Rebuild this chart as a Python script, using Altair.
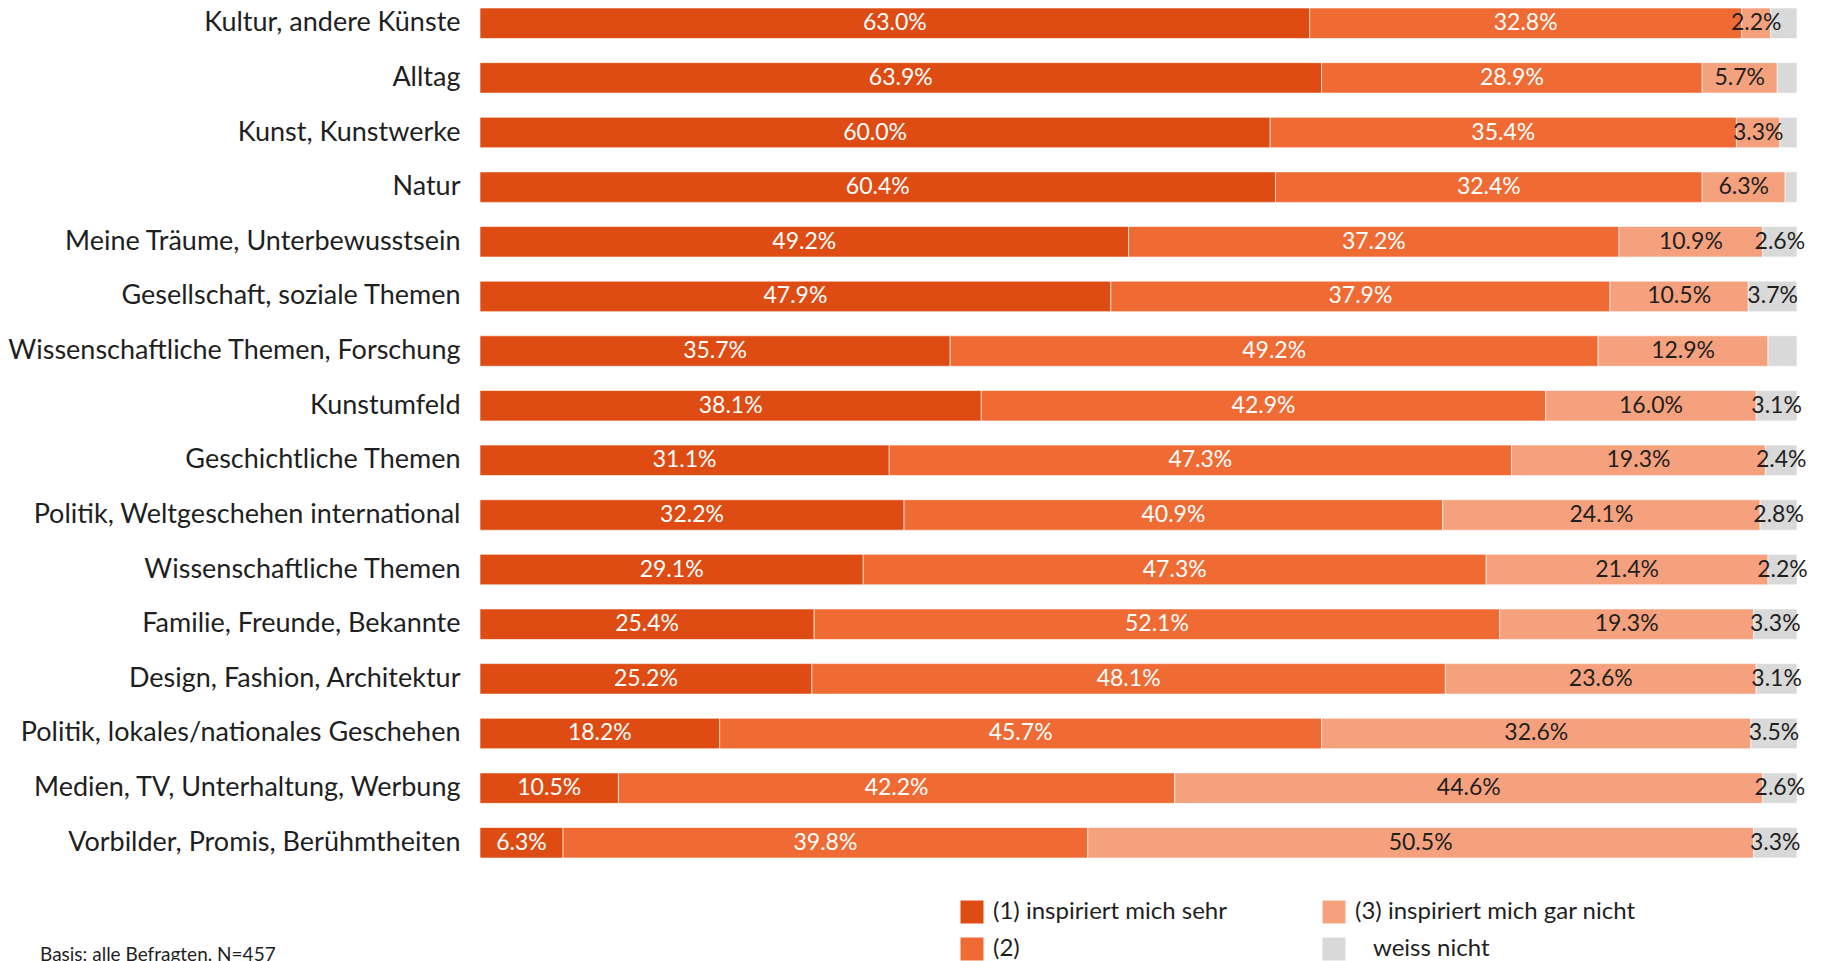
import altair as alt
import pandas as pd

categories = [
    "Kultur, andere Künste", "Alltag", "Kunst, Kunstwerke", "Natur",
    "Meine Träume, Unterbewusstsein", "Gesellschaft, soziale Themen",
    "Wissenschaftliche Themen, Forschung", "Kunstumfeld", "Geschichtliche Themen",
    "Politik, Weltgeschehen international", "Wissenschaftliche Themen",
    "Familie, Freunde, Bekannte", "Design, Fashion, Architektur",
    "Politik, lokales/nationales Geschehen", "Medien, TV, Unterhaltung, Werbung",
    "Vorbilder, Promis, Berühmtheiten",
]
series = ["(1) inspiriert mich sehr", "(2)", "(3) inspiriert mich gar nicht", "\u2800weiss nicht"]
colors = ["#DE4C13", "#F06A33", "#F5A17E", "#D9D9D9"]

s1 = [63.0, 63.9, 60.0, 60.4, 49.2, 47.9, 35.7, 38.1, 31.1, 32.2, 29.1, 25.4, 25.2, 18.2, 10.5, 6.3]
s2 = [32.8, 28.9, 35.4, 32.4, 37.2, 37.9, 49.2, 42.9, 47.3, 40.9, 47.3, 52.1, 48.1, 45.7, 42.2, 39.8]
s3 = [2.2, 5.7, 3.3, 6.3, 10.9, 10.5, 12.9, 16.0, 19.3, 24.1, 21.4, 19.3, 23.6, 32.6, 44.6, 50.5]
s4 = [2.0, 1.5, 1.3, 0.9, 2.6, 3.7, 2.2, 3.1, 2.4, 2.8, 2.2, 3.3, 3.1, 3.5, 2.6, 3.3]
s4_labeled = [False, False, False, False, True, True, False, True, True, True, True, True, True, True, True, True]

footnote = "Basis: alle Befragten. N=457"

rows = []
for i, cat in enumerate(categories):
    for k, (vals, name) in enumerate(zip([s1, s2, s3, s4], series)):
        v = vals[i]
        show = True if k < 3 else s4_labeled[i]
        rows.append({"cat": cat, "series": name, "value": v, "order": k + 1,
                     "label": f"{v:.1f}%", "show": show})
df = pd.DataFrame(rows)

FONT = "Lato"

base = alt.Chart(df).transform_stack(
    stack="value", groupby=["cat"], as_=["v0", "v1"],
    sort=[alt.SortField("order", order="ascending")], offset="normalize",
).transform_calculate(mid="(datum.v0 + datum.v1) / 2")

yenc = alt.Y("cat:N", sort=categories,
             scale=alt.Scale(paddingInner=0.442, paddingOuter=0),
             axis=alt.Axis(title=None, domain=False, ticks=False, grid=False,
                           labelFont=FONT, labelFontSize=27, labelColor="#1f1f1f",
                           labelPadding=20, labelLimit=700))

bars = base.mark_bar(stroke="white", strokeWidth=0.6).encode(
    y=yenc,
    x=alt.X("v0:Q", scale=alt.Scale(domain=[0, 1]), axis=None),
    x2="v1:Q",
    color=alt.Color("series:N", sort=series,
                    scale=alt.Scale(domain=series, range=colors),
                    legend=alt.Legend(title=None, orient="none", legendX=480, legendY=892,
                                      columns=2, columnPadding=95, rowPadding=13,
                                      symbolType="square", symbolSize=529,
                                      symbolStrokeWidth=0, labelFont=FONT,
                                      labelFontSize=24, labelColor="#1f1f1f",
                                      labelOffset=9, labelLimit=500)),
)

texts = base.transform_filter("datum.show").mark_text(
    font=FONT, fontSize=23, baseline="middle", align="center"
).encode(
    y=yenc,
    x=alt.X("mid:Q", scale=alt.Scale(domain=[0, 1]), axis=None),
    text="label:N",
    color=alt.condition("datum.order <= 2", alt.value("white"), alt.value("#1f1f1f")),
)

note = alt.Chart(pd.DataFrame({"t": [footnote]})).mark_text(
    font=FONT, fontSize=19, align="left", baseline="middle", color="#1f1f1f"
).encode(text="t:N", x=alt.value(-440), y=alt.value(947))

chart = alt.layer(bars, texts, note).properties(
    width=1317, height=850,
    autosize=alt.AutoSizeParams(type="none"),
    padding={"left": 472, "top": 0, "right": 16, "bottom": 103},
).configure_view(stroke=None)

chart.save("out.html", embed_options={"renderer": "svg", "actions": False})
